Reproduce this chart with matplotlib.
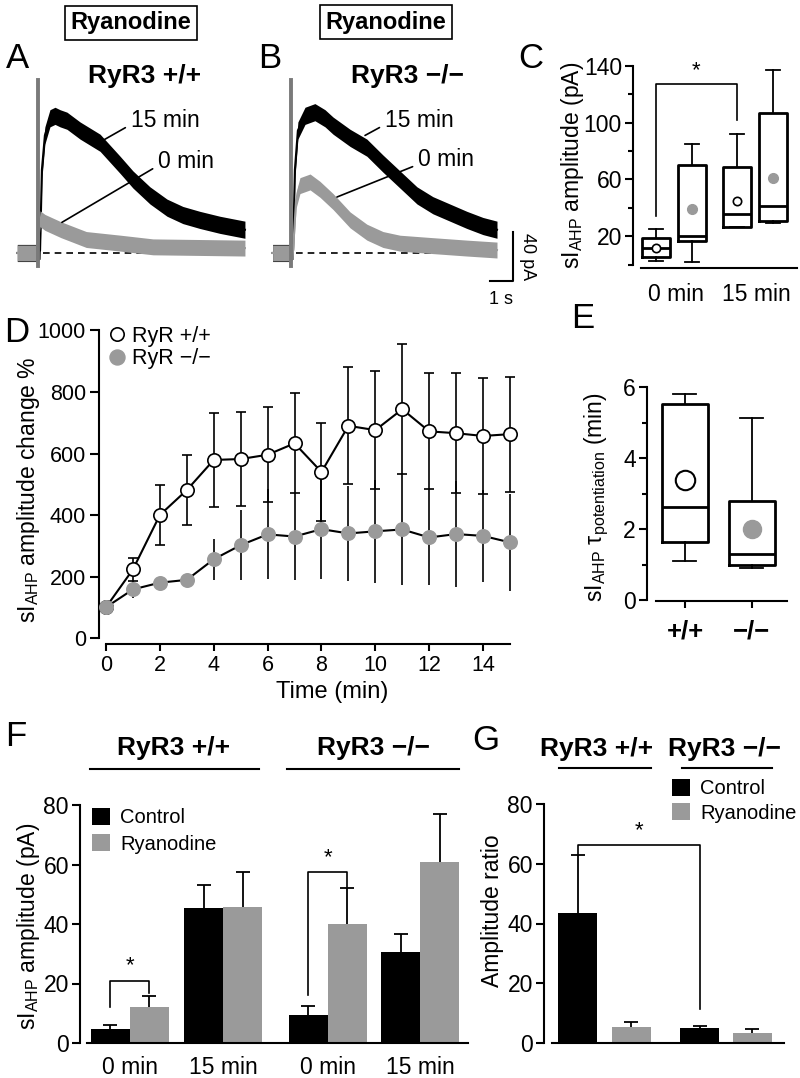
import numpy as np
import matplotlib.pyplot as plt
from matplotlib.lines import Line2D

plt.rcParams['font.family'] = ['Liberation Sans', 'DejaVu Sans']
plt.rcParams['mathtext.fontset'] = 'custom'
plt.rcParams['mathtext.rm'] = 'Liberation Sans'
plt.rcParams['mathtext.it'] = 'Liberation Sans:italic'
plt.rcParams['mathtext.bf'] = 'Liberation Sans:bold'
plt.rcParams['axes.linewidth'] = 1.5
plt.rcParams['xtick.major.width'] = 1.5
plt.rcParams['ytick.major.width'] = 1.5
plt.rcParams['ytick.minor.width'] = 1.5

W, H = 800, 1078
GREY = '#9a9a9a'

# ---- A / B : example traces (time in s, current in pA) ----
a15_t = [-0.9, -0.05, 0.09, 0.17, 0.30, 0.52, 0.74, 0.96, 1.26, 1.83, 2.70, 3.57, 4.13, 4.87, 5.61, 6.30, 7.04, 7.91, 9.0]
a15_i = [0, 0, 2, 68, 96, 110, 112, 110, 108, 100, 90, 72, 60, 47, 37, 31, 27, 23, 19]
a0_t = [-0.9, -0.05, 0.09, 0.30, 1.0, 2.1, 3.6, 5.0, 9.0]
a0_i = [0, 0, 28, 25, 19, 11, 8, 5, 4]
b15_t = [-0.8, -0.05, 0.09, 0.17, 0.30, 0.61, 1.04, 1.48, 1.83, 2.57, 3.30, 4.0, 4.74, 5.48, 6.17, 6.91, 7.65, 8.35, 8.96]
b15_i = [0, 0, 2, 68, 100, 112, 115, 110, 104, 94, 86, 73, 60, 47, 39, 33, 27, 22, 19]
b0_t = [-0.8, -0.05, 0.09, 0.22, 0.39, 0.83, 1.26, 1.83, 2.57, 3.30, 4.0, 4.74, 6.17, 7.65, 8.96]
b0_i = [0, 0, 2, 43, 55, 58, 52, 42, 27, 17, 11, 8, 6, 4, 2.4]
noise_15 = 7
noise_0 = 6.5
scale_pa = 40
scale_s = 1

# ---- C : sIAHP amplitude box plots ----
c_pos = [0, 1, 2.25, 3.25]
c_med = [11.6, 20, 35.5, 41]
c_q1 = [5.3, 16.5, 26.5, 31]
c_q3 = [18.6, 70.5, 68.6, 106.5]
c_lo = [2.5, 1.8, 26.3, 29]
c_hi = [24.9, 85, 92, 137]
c_mean = [11.6, 39, 45, 60.7]
c_open = [True, False, True, False]
c_labels = ['0 min', '15 min']

# ---- D : time course ----
d_time = list(range(16))
d_wt = [100, 223, 400, 481, 579, 582, 596, 633, 540, 690, 676, 744, 672, 666, 657, 663]
d_wt_err = [0, 38, 97, 113, 152, 152, 154, 163, 160, 190, 193, 211, 189, 195, 190, 187]
d_ko = [100, 158, 180, 189, 256, 302, 337, 330, 354, 340, 347, 353, 327, 338, 332, 311]
d_ko_err = [0, 29, 15, 15, 67, 114, 146, 141, 163, 153, 167, 182, 156, 172, 150, 157]

# ---- E : tau potentiation ----
e_pos = [0, 1]
e_med = [2.61, 1.3]
e_q1 = [1.64, 0.99]
e_q3 = [5.52, 2.8]
e_lo = [1.1, 0.89]
e_hi = [5.81, 5.12]
e_mean = [3.38, 2.0]
e_labels = ['+/+', '\u2212/\u2212']

# ---- F : amplitudes ----
f_pos = np.array([0, 2.4, 5.08, 7.46])
f_labels = ['0 min', '15 min', '0 min', '15 min']
f_ctrl = [4.6, 45.3, 9.4, 30.7]
f_ctrl_err = [1.4, 7.8, 3.1, 5.8]
f_rya = [12.2, 45.6, 39.9, 60.9]
f_rya_err = [3.6, 12.0, 12.1, 16.1]

# ---- G : amplitude ratio ----
g_pos = [0, 1.37, 3.12, 4.47]
g_vals = [43.6, 5.5, 4.9, 3.2]
g_err = [19.3, 1.6, 0.9, 1.5]
g_colors = ['k', GREY, 'k', GREY]

fig = plt.figure(figsize=(W / 100, H / 100), dpi=100)


def px_axes(x0, y0, x1, y1):
    return fig.add_axes([x0 / W, 1 - y1 / H, (x1 - x0) / W, (y1 - y0) / H])


def fpx(x, y):
    return x / W, 1 - y / H


def ylabel_at(ax, text, x, y, size=16.5):
    ax.set_ylabel(text, fontsize=size, va='center', rotation_mode='anchor')
    ax.yaxis.set_label_coords(*fpx(x, y), transform=fig.transFigure)


def hline_px(x0, x1, y, lw=1.5):
    fig.add_artist(Line2D([x0 / W, x1 / W], [1 - y / H, 1 - y / H], color='k', lw=lw))


def header(x, y, text):
    fig.text(*fpx(x, y), text, fontsize=19, fontweight='bold', ha='center', va='center')


def clean(ax):
    ax.spines[['top', 'right']].set_visible(False)


# panel letters
for letter, (x, y) in zip('ABCDEFG', [(17, 58), (270, 58), (531, 58), (17, 333),
                                      (583, 319), (16, 737), (486, 741)]):
    fig.text(*fpx(x, y), letter, fontsize=25, ha='center', va='center')


# ---------------- A & B ----------------
def draw_traces(ax, t15, i15, t0, i0):
    i15 = np.array(i15)
    i0 = np.array(i0)
    ax.plot([0.2, t15[-1]], [0, 0], color='k', lw=1.2, ls=(0, (4, 3)), zorder=1)
    ax.fill_between(t15, i15 - noise_15, i15 + noise_15, color='k', lw=0, zorder=2)
    ax.plot(t15, i15, color='k', lw=1.5, zorder=2)
    ax.fill_between(t0, i0 - noise_0, i0 + noise_0, color=GREY, lw=0, zorder=3)
    ax.plot(t0, i0, color=GREY, lw=1.5, zorder=3)
    ax.plot([0, 0], [-11, 141], color='#7a7a7a', lw=2.8, zorder=4)
    ax.set_ylim(-38.4, 142.9)
    ax.axis('off')


def label_trace(ax, text, xy, xytext):
    ax.annotate(text, xy=xy, xytext=xytext, fontsize=16.5, ha='center', va='center',
                arrowprops=dict(arrowstyle='-', lw=1.2, relpos=(0, 0.3), shrinkA=2, shrinkB=0))


ax_a = px_axes(15, 78, 250, 300)
draw_traces(ax_a, a15_t, a15_i, a0_t, a0_i)
ax_a.set_xlim(-1.0, 9.22)
label_trace(ax_a, '15 min', (2.83, 92), (5.52, 108.5))
label_trace(ax_a, '0 min', (1.04, 25), (6.43, 75))

ax_b = px_axes(268, 78, 540, 300)
draw_traces(ax_b, b15_t, b15_i, b0_t, b0_i)
ax_b.set_xlim(-1.0, 10.83)
label_trace(ax_b, '15 min', (3.22, 96), (5.57, 108.5))
label_trace(ax_b, '0 min', (2.0, 45.7), (6.74, 76))
# scale bar
sb_t, sb_i = 9.65, -22.8
ax_b.plot([sb_t - scale_s, sb_t, sb_t], [sb_i, sb_i, sb_i + scale_pa], color='k', lw=1.5, clip_on=False)
ax_b.text(sb_t + 0.65, sb_i + scale_pa / 2, f'{scale_pa} pA', rotation=270, fontsize=13,
          ha='center', va='center')
ax_b.text(sb_t - scale_s / 2, sb_i - 8, f'{scale_s} s', fontsize=13, ha='center', va='top')

for x, y in [(131, 23), (386, 22)]:
    fig.text(*fpx(x, y), 'Ryanodine', fontsize=17, fontweight='bold', ha='center', va='center',
             bbox=dict(boxstyle='square,pad=0.22', fc='white', ec='k', lw=1.2))
header(145, 76, 'RyR3 +/+')
header(407, 76, 'RyR3 \u2212/\u2212')

# ---------------- C ----------------
ax_c = px_axes(633, 66, 797, 264.5)
stats = [dict(med=m, q1=a, q3=b, whislo=lo, whishi=hi)
         for m, a, b, lo, hi in zip(c_med, c_q1, c_q3, c_lo, c_hi)]
ax_c.bxp(stats, positions=c_pos, widths=0.8, showfliers=False, manage_ticks=False,
         boxprops=dict(lw=2), medianprops=dict(color='k', lw=2),
         whiskerprops=dict(lw=1.3), capprops=dict(lw=1.3))
for p, m, op in zip(c_pos, c_mean, c_open):
    if op:
        ax_c.plot(p, m, 'o', ms=6, mfc='white', mec='k', mew=1.2, zorder=5)
    else:
        ax_c.plot(p, m, 'o', ms=7, mfc=GREY, mec=GREY, zorder=5)
ax_c.plot([c_pos[0], c_pos[0], c_pos[2], c_pos[2]], [34, 127, 127, 102], color='k', lw=1.2)
ax_c.text((c_pos[0] + c_pos[2]) / 2, 129, '*', fontsize=16, ha='center', va='bottom')
ax_c.set_xlim(-0.64, 3.92)
ax_c.set_ylim(0, 140)
ax_c.set_yticks([20, 60, 100, 140])
ax_c.set_yticks([0, 40, 80, 120], minor=True)
ax_c.set_xticks([0.55, 2.8], c_labels)
clean(ax_c)
ax_c.spines['bottom'].set_position(('outward', 2.5))
ax_c.spines['bottom'].set_bounds(-0.42, 3.92)
ax_c.tick_params(axis='y', which='major', length=6, labelsize=16.5, pad=2)
ax_c.tick_params(axis='y', which='minor', length=3.5)
ax_c.tick_params(axis='x', length=0, labelsize=16.5, pad=11)
ylabel_at(ax_c, r'sI$_{\rm AHP}$ amplitude (pA)', 573, 165)

# ---------------- D ----------------
ax_d = px_axes(99, 330.5, 510, 644)
ax_d.errorbar(d_time, d_wt, yerr=d_wt_err, color='k', lw=1.5, marker='o', ms=9.6, mfc='white',
              mec='k', mew=1.2, ecolor='k', elinewidth=1.2, capsize=3.5, capthick=1.5,
              clip_on=False, zorder=3)
ax_d.errorbar(d_time, d_ko, yerr=d_ko_err, color='k', lw=1.5, marker='o', ms=10.8, mfc=GREY,
              mec=GREY, mew=0, ecolor='k', elinewidth=1.2, capsize=3.5, capthick=1.5,
              clip_on=False, zorder=4)
ax_d.set_xlim(-0.26, 15)
ax_d.set_ylim(-19.5, 1000)
ax_d.set_xticks(range(0, 15, 2))
ax_d.set_yticks(range(0, 1001, 200))
clean(ax_d)
ax_d.spines['left'].set_bounds(0, 1000)
ax_d.spines['bottom'].set_bounds(0, 15)
ax_d.tick_params(axis='y', length=6.5, labelsize=15.5, pad=3)
ax_d.tick_params(axis='x', length=5, labelsize=15.5, pad=3)
ax_d.set_xlabel('Time (min)', fontsize=17, va='center')
ax_d.xaxis.set_label_coords(*fpx(332, 692), transform=fig.transFigure)
ylabel_at(ax_d, r'sI$_{\rm AHP}$ amplitude change %', 29, 490)
handles = [Line2D([], [], ls='none', marker='o', ms=9.6, mfc='white', mec='k', mew=1.2),
           Line2D([], [], ls='none', marker='o', ms=10.8, mfc=GREY, mec=GREY)]
ax_d.legend(handles, ['RyR +/+', 'RyR \u2212/\u2212'], loc='upper left', fontsize=15.5,
            bbox_to_anchor=fpx(108, 326), bbox_transform=fig.transFigure, frameon=False,
            borderpad=0, borderaxespad=0, handlelength=0.8, handletextpad=0.3, labelspacing=0.05)

# ---------------- E ----------------
ax_e = px_axes(647, 387, 787, 600)
stats = [dict(med=m, q1=a, q3=b, whislo=lo, whishi=hi)
         for m, a, b, lo, hi in zip(e_med, e_q1, e_q3, e_lo, e_hi)]
ax_e.bxp(stats, positions=e_pos, widths=0.69, showfliers=False, manage_ticks=False,
         boxprops=dict(lw=2), medianprops=dict(color='k', lw=2),
         whiskerprops=dict(lw=1.3), capprops=dict(lw=1.3))
ax_e.plot(e_pos[0], e_mean[0], 'o', ms=14, mfc='white', mec='k', mew=1.5, zorder=5)
ax_e.plot(e_pos[1], e_mean[1], 'o', ms=13, mfc=GREY, mec=GREY, zorder=5)
ax_e.set_xlim(-0.567, 1.525)
ax_e.set_ylim(0, 6)
ax_e.set_yticks([0, 2, 4, 6])
ax_e.set_yticks([1, 3, 5], minor=True)
ax_e.set_xticks(e_pos, e_labels)
clean(ax_e)
ax_e.spines['bottom'].set_position(('outward', 1))
ax_e.spines['bottom'].set_bounds(-0.433, 1.525)
ax_e.tick_params(axis='y', which='major', length=6, labelsize=16.5, pad=2)
ax_e.tick_params(axis='y', which='minor', length=3.5)
ax_e.tick_params(axis='x', length=5, pad=8, labelsize=18.5)
for lbl in ax_e.get_xticklabels():
    lbl.set_fontweight('bold')
ylabel_at(ax_e, r'sI$_{\rm AHP}$ τ$_{\rm potentiation}$ (min)', 597, 497)

# ---------------- F ----------------
ax_f = px_axes(80, 805, 468, 1043)
ax_f.bar(f_pos - 0.5, f_ctrl, width=1, color='k', label='Control', zorder=2)
ax_f.bar(f_pos + 0.5, f_rya, width=1, color=GREY, label='Ryanodine', zorder=2)
ax_f.errorbar(f_pos - 0.5, f_ctrl, yerr=f_ctrl_err, fmt='none', ecolor='k',
              elinewidth=1.3, capsize=5, capthick=1.3, zorder=1)
ax_f.errorbar(f_pos + 0.5, f_rya, yerr=f_rya_err, fmt='none', ecolor='k',
              elinewidth=1.3, capsize=5, capthick=1.3, zorder=1)
ax_f.plot([f_pos[0] - 0.5, f_pos[0] - 0.5, f_pos[0] + 0.5, f_pos[0] + 0.5], [12.2, 20.9, 20.9, 16.7],
          color='k', lw=1.2)
ax_f.text(f_pos[0], 22.3, '*', fontsize=16, ha='center', va='bottom')
ax_f.plot([f_pos[2] - 0.5, f_pos[2] - 0.5, f_pos[2] + 0.5, f_pos[2] + 0.5], [16.1, 57.4, 57.4, 52.5],
          color='k', lw=1.2)
ax_f.text(f_pos[2], 58.8, '*', fontsize=16, ha='center', va='bottom')
ax_f.set_xlim(-1.27, 8.68)
ax_f.set_ylim(0, 80)
ax_f.set_yticks(range(0, 81, 20))
ax_f.set_xticks(f_pos, f_labels)
clean(ax_f)
ax_f.spines['bottom'].set_bounds(-1.09, 8.68)
ax_f.tick_params(axis='y', length=6, labelsize=16.5, pad=2)
ax_f.tick_params(axis='x', length=0, labelsize=16.5, pad=9)
ylabel_at(ax_f, r'sI$_{\rm AHP}$ amplitude (pA)', 28, 926)
ax_f.legend(loc='upper left', fontsize=14.5, bbox_to_anchor=fpx(92, 808), bbox_transform=fig.transFigure,
            frameon=False, borderpad=0, borderaxespad=0, handlelength=0.9, handleheight=0.9,
            handletextpad=0.5, labelspacing=0.35)
header(174, 748, 'RyR3 +/+')
header(373, 748, 'RyR3 \u2212/\u2212')
hline_px(90, 259, 769)
hline_px(287, 459, 769)

# ---------------- G ----------------
ax_g = px_axes(544, 804, 784, 1043)
bars = ax_g.bar(g_pos, g_vals, width=1, color=g_colors, zorder=2)
ax_g.errorbar(g_pos, g_vals, yerr=g_err, fmt='none', ecolor='k',
              elinewidth=1.3, capsize=5, capthick=1.3, zorder=1)
ax_g.plot([g_pos[0], g_pos[0], g_pos[2], g_pos[2]], [63, 66.2, 66.2, 11.3], color='k', lw=1.2)
ax_g.text((g_pos[0] + g_pos[2]) / 2, 67.5, '*', fontsize=16, ha='center', va='bottom')
ax_g.set_xlim(-0.87, 5.28)
ax_g.set_ylim(0, 80)
ax_g.set_yticks(range(0, 81, 20))
ax_g.set_xticks([])
clean(ax_g)
ax_g.spines['bottom'].set_bounds(-0.67, 5.28)
ax_g.tick_params(axis='y', length=6, labelsize=16.5, pad=2)
ylabel_at(ax_g, 'Amplitude ratio', 492, 911)
ax_g.legend([bars[0], bars[1]], ['Control', 'Ryanodine'], loc='upper left', fontsize=14.5,
            bbox_to_anchor=fpx(672, 779), bbox_transform=fig.transFigure, frameon=False,
            borderpad=0, borderaxespad=0, handlelength=0.9, handleheight=0.9,
            handletextpad=0.5, labelspacing=0.25)
header(597, 749, 'RyR3 +/+')
header(724, 749, 'RyR3 \u2212/\u2212')
hline_px(559, 651, 768)
hline_px(682, 772, 768)

fig.savefig('out.png', dpi=100)
